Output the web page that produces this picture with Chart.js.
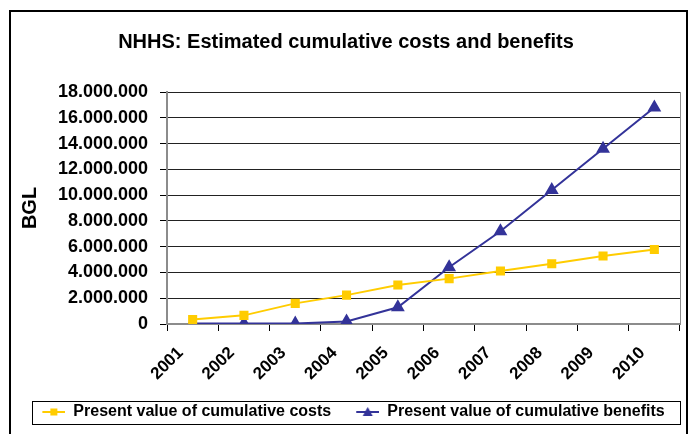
<!DOCTYPE html>
<html>
<head>
<meta charset="utf-8">
<script src="https://cdn.jsdelivr.net/npm/chart.js@4/dist/chart.umd.min.js"></script>
<style>
  html, body { margin: 0; padding: 0; background: #fff; }
  #wrap { width: 691px; height: 434px; }
</style>
</head>
<body>
<div id="wrap"><canvas id="chart" width="691" height="434"></canvas></div>
<script>
// data
const years = ['2001', '2002', '2003', '2004', '2005', '2006', '2007', '2008', '2009', '2010'];
const costs = [350000, 670000, 1600000, 2240000, 3030000, 3520000, 4110000, 4680000, 5270000, 5780000];
const benefits = [30000, 30000, 30000, 200000, 1300000, 4400000, 7200000, 10400000, 13600000, 16800000];
const yTicks = [0, 2000000, 4000000, 6000000, 8000000, 10000000, 12000000, 14000000, 16000000, 18000000];

const yellow = '#FFCC00';
const navy = '#333399';
const FONT = 'Liberation Sans, Arial, sans-serif';

// little line+marker pictures for the legend (blank space on the left = gap between items)
function legendSymbol(color, marker) {
    let c = document.createElement('canvas');
    c.width = 38;
    c.height = 12;
    let ctx = c.getContext('2d');
    ctx.strokeStyle = color;
    ctx.lineWidth = 2;
    ctx.beginPath();
    ctx.moveTo(15, 6);
    ctx.lineTo(38, 6);
    ctx.stroke();
    ctx.fillStyle = color;
    if (marker == 'rect') {
        ctx.fillRect(23, 2.5, 7, 7);
    } else {
        ctx.beginPath();
        ctx.moveTo(26.5, 1);
        ctx.lineTo(31.5, 10);
        ctx.lineTo(21.5, 10);
        ctx.closePath();
        ctx.fill();
    }
    return c;
}

function fmt(v) {
    return String(v).replace(/\B(?=(\d{3})+(?!\d))/g, '.');
}

// frame, right border of the plot and box round the legend
const decor = {
    id: 'decor',
    beforeDraw(chart) {
        let ctx = chart.ctx;
        ctx.save();
        ctx.fillStyle = '#fff';
        ctx.fillRect(0, 0, chart.width, chart.height);
        ctx.strokeStyle = '#000';
        ctx.lineWidth = 2;
        ctx.strokeRect(10, 11, 677, 440);
        ctx.restore();
    },
    afterDraw(chart) {
        let ctx = chart.ctx;
        let a = chart.chartArea;
        ctx.save();
        ctx.strokeStyle = '#8c8c8c';
        ctx.lineWidth = 1;
        ctx.beginPath();
        ctx.moveTo(a.right + 0.5, a.top);
        ctx.lineTo(a.right + 0.5, a.bottom);
        ctx.stroke();

        let boxes = chart.legend.legendHitBoxes;
        if (boxes && boxes.length) {
            let first = boxes[0];
            let last = boxes[boxes.length - 1];
            let cy = first.top + first.height / 2;
            let x0 = Math.round(first.left + 5);
            let x1 = Math.round(last.left + last.width + 15);
            let y0 = Math.round(cy - 11.5);
            ctx.strokeStyle = '#000';
            ctx.lineWidth = 1;
            ctx.strokeRect(x0 + 0.5, y0 + 0.5, x1 - x0, 23);
        }
        ctx.restore();
    }
};

const symCosts = legendSymbol(yellow, 'rect');
const symBenefits = legendSymbol(navy, 'triangle');

var ctx = document.getElementById('chart').getContext('2d');
var myChart = new Chart(ctx, {
    type: 'line',
    data: {
        labels: years,
        datasets: [{
            label: 'Present value of cumulative costs',
            data: costs,
            borderColor: yellow,
            backgroundColor: yellow,
            borderWidth: 2,
            pointStyle: 'rect',
            pointRadius: 5,
            pointHoverRadius: 5,
            tension: 0
        }, {
            label: 'Present value of cumulative benefits',
            data: benefits,
            borderColor: navy,
            backgroundColor: navy,
            borderWidth: 2,
            pointStyle: 'triangle',
            pointRadius: 6,
            pointHoverRadius: 6,
            tension: 0
        }]
    },
    options: {
        responsive: false,
        animation: false,
        layout: {
            padding: { left: 12, right: 11, top: 0, bottom: 4 }
        },
        scales: {
            x: {
                offset: true,
                grid: {
                    offset: true,
                    drawOnChartArea: false,
                    drawTicks: true,
                    tickLength: 7,
                    color: '#000'
                },
                border: { color: '#8c8c8c', width: 2 },
                ticks: {
                    color: '#000',
                    font: { family: FONT, size: 17, weight: 'bold' },
                    minRotation: 45,
                    maxRotation: 45,
                    padding: 12,
                    labelOffset: -12
                },
                afterFit(scale) { scale.height = 70; }
            },
            y: {
                min: 0,
                max: 18000000,
                afterBuildTicks(scale) {
                    scale.ticks = yTicks.map(v => ({ value: v }));
                },
                grid: {
                    color: '#222',
                    lineWidth: 1,
                    tickLength: 7,
                    tickColor: '#000'
                },
                border: { color: '#8c8c8c', width: 2 },
                ticks: {
                    color: '#000',
                    padding: 12,
                    font: { family: FONT, size: 18, weight: 'bold' },
                    callback: v => fmt(v)
                },
                title: {
                    display: true,
                    text: 'BGL',
                    color: '#000',
                    font: { family: FONT, size: 20, weight: 'bold' },
                    padding: { top: 6, bottom: 0 }
                },
                afterFit(scale) { scale.width = 155; }
            }
        },
        plugins: {
            title: {
                display: true,
                text: 'NHHS: Estimated cumulative costs and benefits',
                color: '#000',
                font: { family: FONT, size: 20, weight: 'bold' },
                padding: { top: 30, bottom: 38 }
            },
            legend: {
                position: 'bottom',
                labels: {
                    color: '#000',
                    font: { family: FONT, size: 16, weight: 'bold' },
                    usePointStyle: true,
                    pointStyleWidth: 38,
                    padding: 10,
                    generateLabels(chart) {
                        return chart.data.datasets.map((ds, i) => ({
                            text: ds.label,
                            pointStyle: i == 0 ? symCosts : symBenefits,
                            fillStyle: ds.borderColor,
                            strokeStyle: ds.borderColor,
                            lineWidth: 0,
                            fontColor: '#000',
                            datasetIndex: i
                        }));
                    }
                }
            },
            tooltip: { enabled: false }
        }
    },
    plugins: [decor]
});
</script>
</body>
</html>
